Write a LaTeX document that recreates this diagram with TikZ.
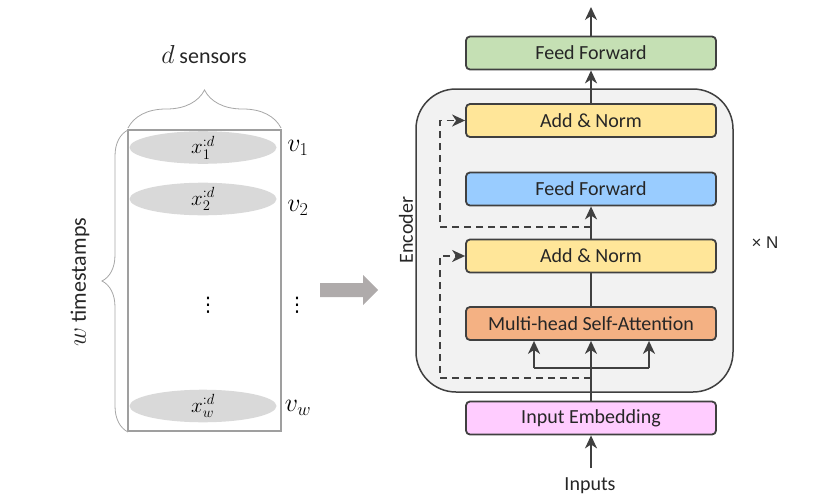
\RequirePackage{fix-cm}
\documentclass[tikz,border=0pt]{standalone}
\usepackage{amsmath,amssymb}
\usepackage{fontspec}
\setmainfont{Carlito}
\newfontfamily\arialfont{Liberation Sans}
\newfontfamily\symfont{DejaVu Sans}
\usepackage{xcolor}
\usetikzlibrary{arrows.meta,shapes.geometric,decorations.pathreplacing}

\definecolor{linegray}{HTML}{404040}
\definecolor{textgray}{HTML}{262626}
\definecolor{encfill}{HTML}{F2F2F2}
\definecolor{normfill}{HTML}{FFE699}
\definecolor{fffill}{HTML}{99CCFF}
\definecolor{outfill}{HTML}{C5E0B4}
\definecolor{attfill}{HTML}{F4B183}
\definecolor{embfill}{HTML}{FFCCFF}
\definecolor{rowfill}{HTML}{D9D9D9}
\definecolor{bigarrow}{HTML}{AFABAB}

\newcommand{\bigmath}[1]{{\fontsize{26}{26}\selectfont$#1$}}

\tikzset{
  block/.style={draw=linegray, line width=1.8pt, rounded corners=4pt,
    minimum width=250pt, minimum height=33pt, inner sep=0pt,
    text=textgray, font=\fontsize{20}{24}\selectfont},
  row/.style={ellipse, fill=rowfill, minimum width=147pt, minimum height=32pt,
    inner sep=0pt, text=black, font=\fontsize{21}{22}\selectfont},
  flow/.style={draw=linegray, line width=1.8pt,
    -{Stealth[length=13pt,width=12pt,inset=4pt]}},
  skip/.style={flow, dash pattern=on 7pt off 5pt},
  bracegray/.style={draw=gray!70, line width=0.8pt,
    decorate, decoration={brace}},
  lbl/.style={text=textgray, inner sep=0pt},
  var/.style={text=black, inner sep=0pt, font=\fontsize{26}{26}\selectfont},
  dots/.style={text=black, inner sep=0pt, font=\symfont\fontsize{20}{20}\selectfont}
}

\begin{document}
\begin{tikzpicture}[x=1pt,y=-1pt]
        \useasboundingbox (0,0) rectangle (830,498);

        % Input window
        \draw[gray!75, line width=1.2pt] (128,130) rectangle (281,431);
        \node[row] (r1) at (203,147.5) {$x_1^{:d}$};
        \node[row] (r2) at (203,199)   {$x_2^{:d}$};
        \node[row] (rw) at (203,406)   {$x_w^{:d}$};
        \node[dots] (rdots) at (208,305) {⋮};

        % Sensor variables
        \node[var] (v1) at (298,148) {$v_1$};
        \node[var] (v2) at (298,208) {$v_2$};
        \node[dots] (vdots) at (297,305) {⋮};
        \node[var] (vw) at (298,408) {$v_w$};

        % Braces
        \draw[bracegray, decoration={amplitude=38pt}] (128,128) -- (281,128);
        \draw[bracegray, decoration={amplitude=26pt}] (128,432) -- (128,130);
        \node[lbl, font=\fontsize{22}{26}\selectfont] (sensors) at (204,55) {\bigmath{d} sensors};
        \node[lbl, font=\fontsize{22}{26}\selectfont, rotate=90] (stamps) at (80,282) {\bigmath{w} timestamps};

        % Big arrow
        \fill[bigarrow] (320,283) -- (363,283) -- (363,275) -- (378,290)
              -- (363,305) -- (363,297) -- (320,297) -- cycle;

        % Encoder
        \draw[linegray, fill=encfill, line width=1.5pt, rounded corners=40pt]
              (416,89) rectangle (733,392);
        \node[lbl, rotate=90, font=\fontsize{20}{24}\selectfont] (enc) at (406,230) {Encoder};
        \node[lbl, font=\arialfont\fontsize{17}{20}\selectfont] (times) at (765,243) {× N};

        % Blocks
        \node[block, fill=outfill]  (ffout) at (591,53)    {Feed Forward};
        \node[block, fill=normfill] (norm2) at (591,120.5) {Add \& Norm};
        \node[block, fill=fffill]   (ff)    at (591,189)   {Feed Forward};
        \node[block, fill=normfill] (norm1) at (591,256)   {Add \& Norm};
        \node[block, fill=attfill]  (att)   at (591,323.5) {Multi-head Self-Attention};
        \node[block, fill=embfill]  (emb)   at (591,418)   {Input Embedding};
        \node[lbl, font=\fontsize{20}{24}\selectfont] (inputs) at (590,486) {Inputs};

        % Connection points
        \coordinate (out) at (591,7);
        \coordinate (inp) at (591,468);
        \coordinate (ql) at (534,368);
        \coordinate (qr) at (649,368);
        \coordinate (res1) at (591,378);
        \coordinate (res1l) at (440,378);
        \coordinate (res2) at (591,227);
        \coordinate (res2l) at (440,227);

        % Main path
        \draw[flow] (inp) -- (emb);
        \draw[flow] (emb) -- (att);
        \draw[linegray, line width=1.8pt] (ql) -- (qr);
        \draw[flow] (ql) -- (ql |- att.south);
        \draw[flow] (qr) -- (qr |- att.south);
        \draw[linegray, line width=1.8pt] (att) -- (norm1);
        \draw[flow] (norm1) -- (ff);
        \draw[flow] (norm2) -- (ffout);
        \draw[flow] (ffout) -- (out);

        % Residual paths
        \draw[skip] (res1) -- (res1l) |- (norm1.west);
        \draw[skip] (res2) -- (res2l) |- (norm2.west);
    \end{tikzpicture}
\end{document}
